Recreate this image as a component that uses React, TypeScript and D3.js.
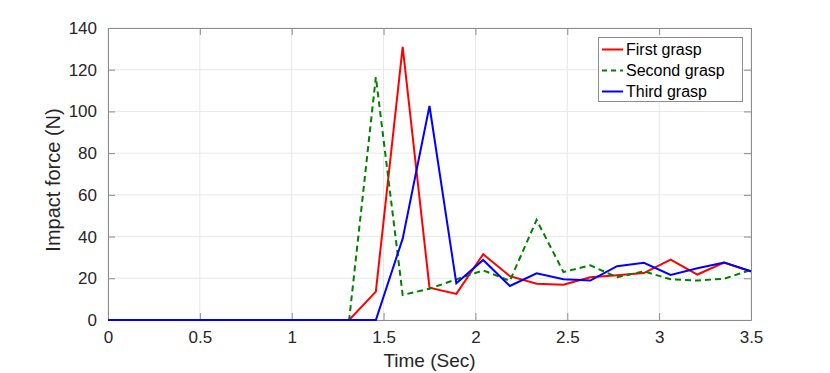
import React, { useEffect, useRef } from "react";
import * as d3 from "d3";

// time samples (sec)
const time = [0, 0.146, 0.292, 0.4375, 0.583, 0.729, 0.875, 1.021, 1.167, 1.3125, 1.458, 1.604,
  1.75, 1.896, 2.042, 2.1875, 2.333, 2.479, 2.625, 2.771, 2.917, 3.0625, 3.208, 3.354, 3.5];

// impact force (N)
const firstGrasp = [0, 0, 0, 0, 0, 0, 0, 0, 0, 0, 13.6, 131, 15.5, 12.5, 31.5, 21, 17.4, 16.9,
  20.5, 21.5, 22.5, 29, 21.8, 27.5, 23.2];
const secondGrasp = [0, 0, 0, 0, 0, 0, 0, 0, 0, 0, 116.5, 12, 15, 19.5, 23.8, 18.8, 48, 23, 26.2,
  20.5, 23.3, 19.5, 18.9, 19.8, 24];
const thirdGrasp = [0, 0, 0, 0, 0, 0, 0, 0, 0, 0, 0, 39, 102.6, 17.6, 28.8, 16.3, 22.4, 19.5,
  18.9, 25.8, 27.4, 21.6, 24.8, 27.5, 23.4];

const seriesNames = ["First grasp", "Second grasp", "Third grasp"];
const xTicks = [0, 0.5, 1, 1.5, 2, 2.5, 3, 3.5];
const yTicks = [0, 20, 40, 60, 80, 100, 120, 140];

export default function App() {
  const ref = useRef<SVGSVGElement>(null);

  useEffect(() => {
    const svg = d3.select(ref.current);
    svg.selectAll("*").remove();

    const left = 108, right = 751, top = 28, bottom = 320;
    const font = "'Liberation Sans', Arial, sans-serif";
    const axisColor = "#8c8c8c";

    const x = d3.scaleLinear().domain([0, 3.5]).range([left, right]);
    const y = d3.scaleLinear().domain([0, 140]).range([bottom, top]);

    // grid
    const grid = svg.append("g");
    grid.selectAll("line.gx").data(xTicks).enter().append("line")
      .attr("x1", d => x(d)).attr("x2", d => x(d))
      .attr("y1", top).attr("y2", bottom)
      .attr("stroke", "#e8e8e8").attr("stroke-width", 1);
    grid.selectAll("line.gy").data(yTicks).enter().append("line")
      .attr("x1", left).attr("x2", right)
      .attr("y1", d => y(d)).attr("y2", d => y(d))
      .attr("stroke", "#e8e8e8").attr("stroke-width", 1);

    // axes (ticks inward)
    const styleAxis = (g: any) => {
      g.select(".domain").attr("stroke", axisColor);
      g.selectAll(".tick line").attr("stroke", axisColor);
      g.selectAll(".tick text").attr("fill", "#262626")
        .style("font-family", font).style("font-size", "17px");
    };
    svg.append("g").attr("transform", `translate(0,${bottom})`)
      .call(d3.axisBottom(x).tickValues(xTicks).tickFormat(d3.format("")).tickSizeInner(-7).tickSizeOuter(0).tickPadding(11))
      .call(styleAxis);
    svg.append("g").attr("transform", `translate(${left},0)`)
      .call(d3.axisLeft(y).tickValues(yTicks).tickFormat(d3.format("")).tickSizeInner(-7).tickSizeOuter(0).tickPadding(11))
      .call(styleAxis);
    svg.append("g").attr("transform", `translate(0,${top})`)
      .call(d3.axisTop(x).tickValues(xTicks).tickFormat(() => "").tickSizeInner(-7).tickSizeOuter(0))
      .call(styleAxis);
    svg.append("g").attr("transform", `translate(${right},0)`)
      .call(d3.axisRight(y).tickValues(yTicks).tickFormat(() => "").tickSizeInner(-7).tickSizeOuter(0))
      .call(styleAxis);

    // lines
    const line = d3.line<number>().x((d, i) => x(time[i])).y(d => y(d));
    const series = [
      { data: firstGrasp, color: "#ff0000", dash: null },
      { data: secondGrasp, color: "#008000", dash: "6,4" },
      { data: thirdGrasp, color: "#0000ff", dash: null },
    ];
    series.forEach(s => {
      svg.append("path").datum(s.data)
        .attr("d", line)
        .attr("fill", "none")
        .attr("stroke", s.color)
        .attr("stroke-width", 2)
        .attr("stroke-dasharray", s.dash);
    });

    // axis titles
    svg.append("text")
      .attr("x", (left + right) / 2).attr("y", 367)
      .attr("text-anchor", "middle")
      .style("font-family", font).style("font-size", "19px").attr("fill", "#262626")
      .text("Time (Sec)");
    svg.append("text")
      .attr("transform", `translate(60,180) rotate(-90)`)
      .attr("text-anchor", "middle")
      .style("font-family", font).style("font-size", "20px").attr("fill", "#262626")
      .text("Impact force (N)");

    // legend
    const lg = svg.append("g");
    lg.append("rect")
      .attr("x", 598.5).attr("y", 37.5).attr("width", 144).attr("height", 64)
      .attr("fill", "#fff").attr("stroke", axisColor);
    series.forEach((s, i) => {
      const yy = 49.5 + i * 21;
      lg.append("line")
        .attr("x1", 602).attr("x2", 623).attr("y1", yy).attr("y2", yy)
        .attr("stroke", s.color).attr("stroke-width", 2)
        .attr("stroke-dasharray", s.dash ? "5,4" : null);
      lg.append("text")
        .attr("x", 626).attr("y", yy + 5.5)
        .style("font-family", font).style("font-size", "16px").attr("fill", "#000")
        .text(seriesNames[i]);
    });
  }, []);

  return <svg ref={ref} width={830} height={373} style={{ display: "block", position: "absolute", left: 0, top: 0, background: "#fff" }} />;
}
